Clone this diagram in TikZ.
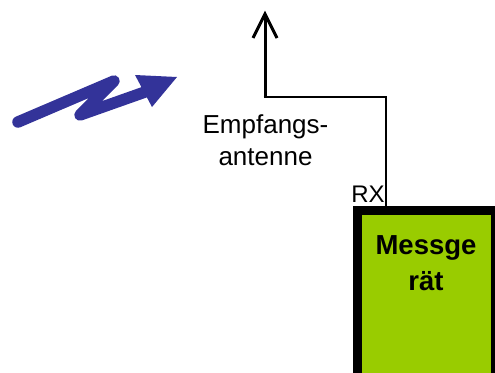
\documentclass[tikz,border=0pt]{standalone}
\usepackage{fontspec}
\setmainfont{Liberation Sans}
\usetikzlibrary{calc}
\definecolor{wavecol}{RGB}{51,51,153}
\definecolor{boxgreen}{RGB}{153,204,0}
\begin{document}
\begin{tikzpicture}[x=1pt,y=-1pt,
  labeltext/.style={inner sep=0pt, align=center, font=\fontsize{26}{32}\selectfont},
  rxtext/.style={inner sep=0pt, font=\fontsize{24}{26}\selectfont},
  boxtext/.style={inner sep=0pt, align=center, font=\fontsize{27.5}{36}\selectfont\bfseries},
  devbox/.style={draw=black, line width=9pt, fill=boxgreen, minimum width=138pt, minimum height=180pt, inner sep=0pt, outer sep=0pt},
  wave/.style={draw=wavecol, line width=11.5pt, line cap=round, line join=round},
  feedline/.style={draw=black, line width=1.5pt},
  antline/.style={draw=black, line width=3pt}
]
\useasboundingbox (0,0) rectangle (495,372);
\clip (0,0) rectangle (495,372);
% measuring device
\node[devbox, anchor=north west] (mg) at (357.5,210.5) {};
\node[boxtext, anchor=north] (mgt) at (426,235) {Messge\\rät};
% antenna
\coordinate (antbase) at (265,97);
\coordinate (anttip) at (265,14);
\coordinate (rxin) at (386,206);
\draw[antline] (antbase) -- (anttip);
\draw[antline, line join=miter] ($(anttip)+(-12,24)$) -- (anttip) -- ($(anttip)+(12,24)$);
\draw[feedline] ([xshift=-1.5pt]antbase) -| (rxin);
\node[labeltext, anchor=north] (antlabel) at (265.5,114) {Empfangs-\\antenne};
\node[rxtext, anchor=base] (rx) at (368,202) {RX};
% incoming wave
\coordinate (w1) at (18,122);
\coordinate (w2) at (114,81);
\coordinate (w3) at (80,115);
\coordinate (w4) at (145,92);
\draw[wave] (w1) -- (w2) -- (w3) -- (w4);
\fill[wavecol] (135,75) -- (177,77) -- (152,107) -- cycle;
\end{tikzpicture}
\end{document}
